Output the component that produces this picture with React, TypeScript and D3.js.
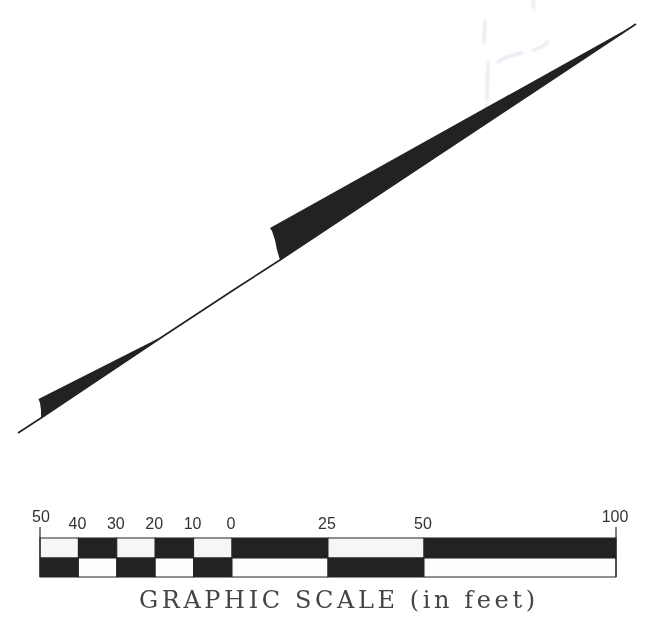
import React from "react";
import * as d3 from "d3";

const WIDTH = 647;
const HEIGHT = 623;

// Cross-section outline (station, elevation)
const lowerEdge: [number, number][] = [[18, 433], [41, 418], [165, 335], [235, 289], [280, 260], [636, 24]];
const upperWedgeB: [number, number][] = [[636, 24], [270, 228], [272, 231], [275, 240], [277, 250], [280, 260]];
const lowerEdgeWedgeA: [number, number][] = [[41, 418], [165, 335]];
const upperWedgeA: [number, number][] = [[165, 335], [38.5, 399], [40, 403], [41, 410], [41, 418]];
const lowerEdgeWedgeB: [number, number][] = [[280, 260], [636, 24]];

// Faint show-through marks on the scanned page
const ghostMarks: [number, number][][] = [
  [[485, 20], [484, 43]],
  [[488, 63], [487, 100]],
  [[498, 62], [506, 57], [522, 53]],
  [[533, 50], [542, 47], [548, 42]],
  [[533, 0], [534, 8]],
  [[487, 105], [482, 125]],
];

// Graphic scale
const scaleFeet = [-50, -40, -30, -20, -10, 0, 25, 50, 100];
const tickLabels = ["50", "40", "30", "20", "10", "0", "25", "50", "100"];
const labelRaised = [true, false, false, false, false, false, false, false, true];
const title = "GRAPHIC SCALE (in feet)";

const x = d3.scaleLinear().domain([-50, 100]).range([40, 616]);
const line = d3.line<[number, number]>().x((d) => d[0]).y((d) => d[1]);
const ink = "#242424";

export default function App() {
  const segments = d3.pairs(scaleFeet);
  const barTop = 538;
  const barMid = 558;
  const barBottom = 577;
  return (
    <svg
      width={WIDTH}
      height={HEIGHT}
      viewBox={`0 0 ${WIDTH} ${HEIGHT}`}
      style={{ position: "absolute", left: 0, top: 0, background: "#fff" }}
    >
      <g filter="url(#soft)">
        {ghostMarks.map((m, i) => (
          <path key={i} d={line(m) ?? ""} fill="none" stroke="#e4e4f2" strokeWidth={2.5} strokeLinecap="round" />
        ))}
      </g>
      <defs>
        <filter id="soft"><feGaussianBlur stdDeviation="0.8" /></filter>
        <filter id="scan"><feGaussianBlur stdDeviation="0.35" /></filter>
      </defs>
      <g filter="url(#scan)">
        <path d={line(lowerEdge) ?? ""} fill="none" stroke={ink} strokeWidth={1.7} />
        <path d={(line([...lowerEdgeWedgeA, ...upperWedgeA]) ?? "") + "Z"} fill={ink} />
        <path d={(line([...lowerEdgeWedgeB, ...upperWedgeB]) ?? "") + "Z"} fill={ink} />

        {segments.map(([a, b], i) => (
          <g key={i}>
            <rect x={x(a)} y={barTop} width={x(b) - x(a)} height={barMid - barTop}
              fill={i % 2 === 0 ? "#f6f6f6" : ink} stroke={ink} strokeWidth={1} />
            <rect x={x(a)} y={barMid} width={x(b) - x(a)} height={barBottom - barMid}
              fill={i % 2 === 0 ? ink : "#fdfdfd"} stroke={ink} strokeWidth={1} />
          </g>
        ))}
        <line x1={x(-50)} x2={x(-50)} y1={527} y2={barBottom} stroke={ink} strokeWidth={1.2} />
        <line x1={x(100)} x2={x(100)} y1={527} y2={barBottom} stroke={ink} strokeWidth={1.2} />

        {scaleFeet.map((f, i) => (
          <text key={i} x={i === 0 ? x(f) + 1 : i === 8 ? x(f) - 1 : x(f) - 1}
            y={labelRaised[i] ? 522 : 529} textAnchor="middle"
            fontFamily="Liberation Sans" fontSize={16} fill="#333">
            {tickLabels[i]}
          </text>
        ))}
        <text x={139} y={608} textLength={396} lengthAdjust="spacing"
          fontFamily="DejaVu Serif" fontSize={24} fill="#444" style={{ whiteSpace: "pre" }}>
          {title}
        </text>
      </g>
    </svg>
  );
}
